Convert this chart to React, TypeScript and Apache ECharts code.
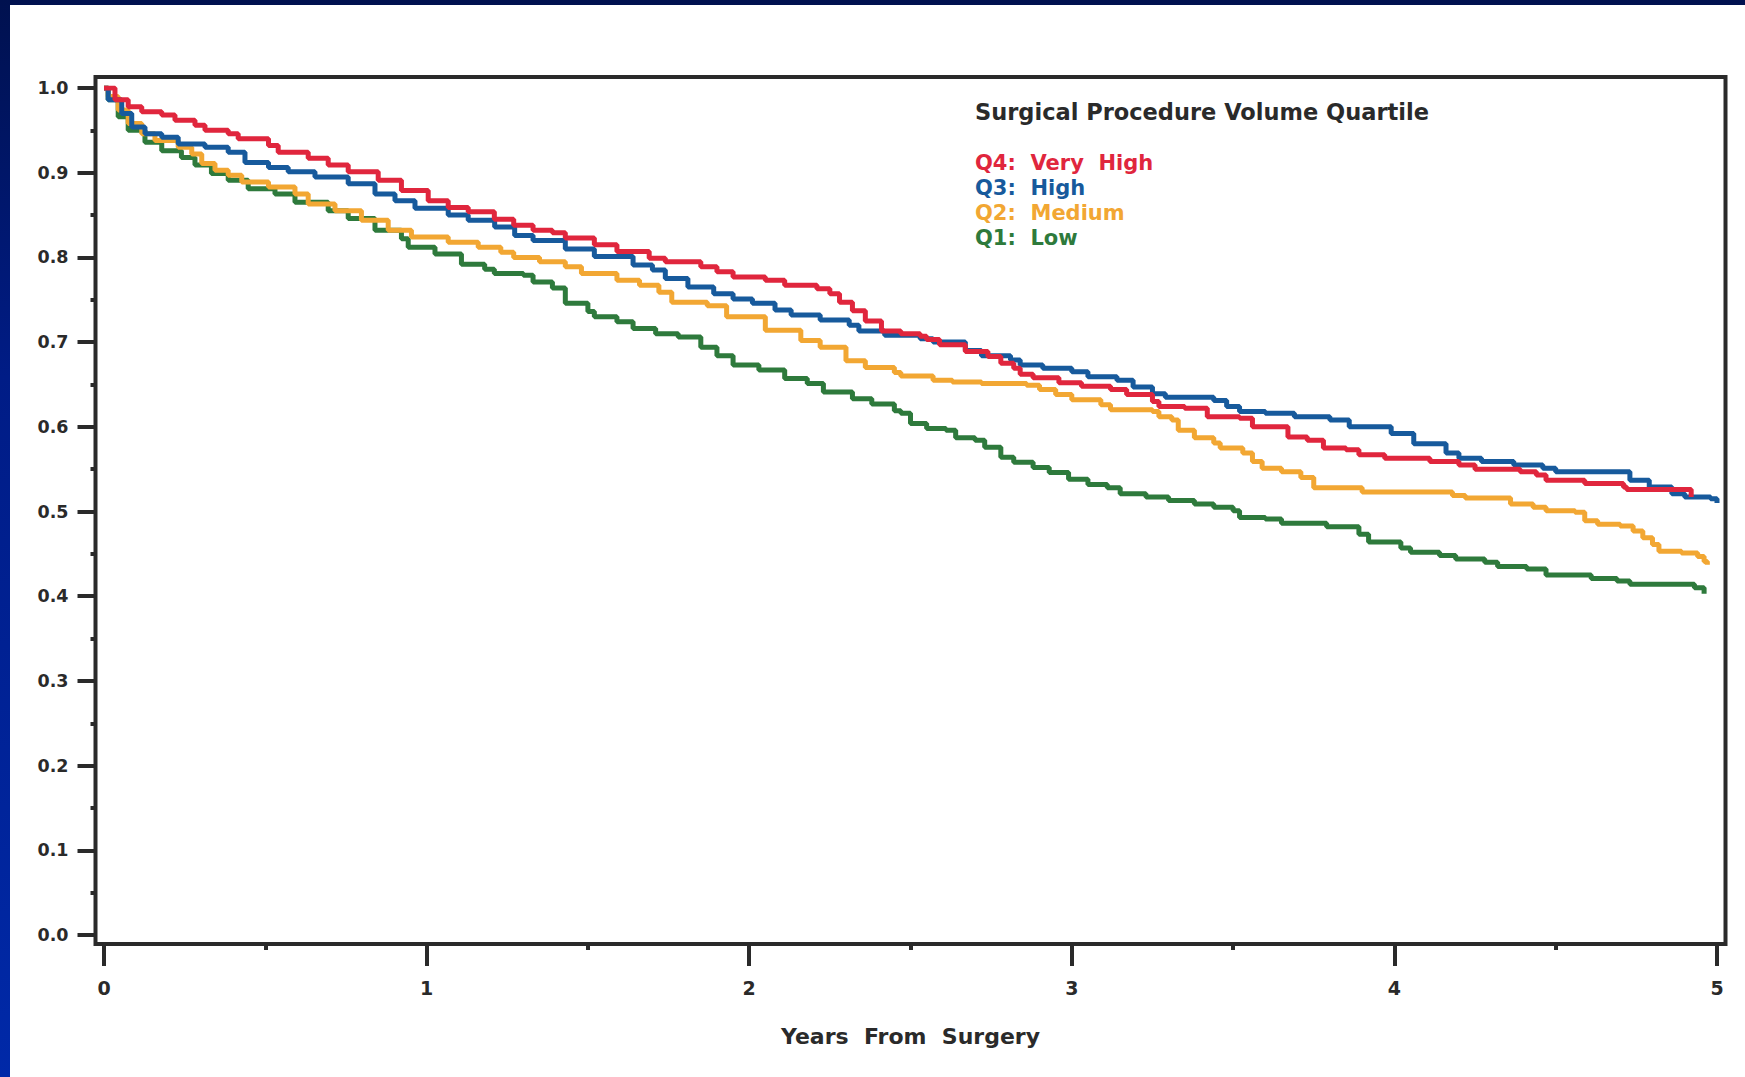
import React, { useEffect, useRef } from "react";
import * as echarts from "echarts";

// Kaplan–Meier survival by surgical procedure volume quartile: [years, survival]
const q4VeryHigh: [number, number][] = [
  [0, 1.0], [0.034, 0.986], [0.075, 0.978], [0.117, 0.972], [0.179, 0.968], [0.22, 0.962],
  [0.282, 0.956], [0.313, 0.95], [0.385, 0.946], [0.416, 0.94], [0.51, 0.932], [0.54, 0.924],
  [0.633, 0.917], [0.695, 0.909], [0.757, 0.901], [0.85, 0.891], [0.922, 0.879], [1.005, 0.867],
  [1.067, 0.859], [1.129, 0.854], [1.21, 0.845], [1.27, 0.838], [1.33, 0.832], [1.39, 0.829],
  [1.43, 0.823], [1.52, 0.815], [1.59, 0.807], [1.69, 0.799], [1.74, 0.795], [1.85, 0.789],
  [1.9, 0.783], [1.95, 0.777], [2.05, 0.773], [2.11, 0.767], [2.21, 0.763], [2.25, 0.757],
  [2.28, 0.747], [2.32, 0.737], [2.36, 0.725], [2.41, 0.713], [2.47, 0.71], [2.53, 0.707],
  [2.55, 0.703], [2.59, 0.697], [2.67, 0.689], [2.74, 0.683], [2.78, 0.675], [2.82, 0.669],
  [2.84, 0.662], [2.88, 0.658], [2.96, 0.652], [3.03, 0.648], [3.12, 0.644], [3.17, 0.638],
  [3.25, 0.63], [3.27, 0.624], [3.35, 0.622], [3.42, 0.612], [3.52, 0.61], [3.56, 0.6],
  [3.67, 0.588], [3.73, 0.584], [3.78, 0.575], [3.85, 0.573], [3.89, 0.567], [3.97, 0.563],
  [4.11, 0.559], [4.2, 0.555], [4.25, 0.55], [4.39, 0.547], [4.44, 0.543], [4.47, 0.537],
  [4.59, 0.533], [4.71, 0.529], [4.72, 0.526], [4.92, 0.517],
];

const q3High: [number, number][] = [
  [0, 1.0], [0.013, 0.986], [0.055, 0.97], [0.086, 0.954], [0.127, 0.946], [0.179, 0.942],
  [0.23, 0.934], [0.313, 0.93], [0.385, 0.924], [0.437, 0.912], [0.51, 0.906], [0.571, 0.901],
  [0.654, 0.895], [0.757, 0.887], [0.84, 0.875], [0.902, 0.867], [0.964, 0.858], [1.067, 0.85],
  [1.129, 0.844], [1.211, 0.836], [1.273, 0.826], [1.33, 0.82], [1.43, 0.81], [1.52, 0.801],
  [1.64, 0.791], [1.7, 0.785], [1.74, 0.775], [1.81, 0.765], [1.89, 0.757], [1.95, 0.751],
  [2.01, 0.746], [2.08, 0.738], [2.13, 0.732], [2.22, 0.726], [2.31, 0.72], [2.34, 0.713],
  [2.42, 0.708], [2.53, 0.704], [2.57, 0.7], [2.67, 0.69], [2.72, 0.684], [2.81, 0.679],
  [2.84, 0.673], [2.91, 0.669], [3.0, 0.665], [3.05, 0.659], [3.14, 0.655], [3.19, 0.647],
  [3.25, 0.639], [3.29, 0.635], [3.44, 0.631], [3.48, 0.624], [3.52, 0.618], [3.6, 0.616],
  [3.69, 0.612], [3.8, 0.608], [3.86, 0.6], [3.99, 0.592], [4.06, 0.58], [4.16, 0.569],
  [4.2, 0.563], [4.27, 0.559], [4.37, 0.555], [4.46, 0.551], [4.5, 0.547], [4.73, 0.537],
  [4.79, 0.529], [4.86, 0.521], [4.9, 0.517], [4.98, 0.515], [5.0, 0.51],
];

const q2Medium: [number, number][] = [
  [0, 1.0], [0.013, 0.99], [0.044, 0.974], [0.075, 0.958], [0.117, 0.946], [0.158, 0.938],
  [0.23, 0.93], [0.272, 0.922], [0.303, 0.911], [0.344, 0.903], [0.385, 0.897], [0.427, 0.889],
  [0.51, 0.883], [0.592, 0.875], [0.633, 0.863], [0.716, 0.855], [0.798, 0.844], [0.881, 0.832],
  [0.953, 0.824], [1.067, 0.818], [1.16, 0.812], [1.23, 0.806], [1.27, 0.8], [1.35, 0.795],
  [1.43, 0.789], [1.48, 0.781], [1.59, 0.773], [1.66, 0.767], [1.72, 0.759], [1.76, 0.747],
  [1.87, 0.743], [1.93, 0.73], [2.05, 0.714], [2.16, 0.702], [2.22, 0.694], [2.3, 0.678],
  [2.36, 0.67], [2.45, 0.664], [2.47, 0.66], [2.57, 0.655], [2.63, 0.653], [2.72, 0.651],
  [2.86, 0.649], [2.9, 0.644], [2.95, 0.638], [3.0, 0.632], [3.09, 0.626], [3.12, 0.62],
  [3.25, 0.618], [3.27, 0.612], [3.31, 0.608], [3.33, 0.596], [3.38, 0.587], [3.44, 0.581],
  [3.46, 0.575], [3.53, 0.569], [3.56, 0.559], [3.59, 0.551], [3.65, 0.547], [3.71, 0.54],
  [3.75, 0.528], [3.9, 0.523], [4.18, 0.519], [4.22, 0.516], [4.36, 0.509], [4.43, 0.505],
  [4.47, 0.501], [4.56, 0.499], [4.59, 0.489], [4.63, 0.485], [4.7, 0.483], [4.74, 0.477],
  [4.77, 0.469], [4.8, 0.461], [4.82, 0.453], [4.89, 0.451], [4.94, 0.447], [4.96, 0.441],
  [4.97, 0.437],
];

const q1Low: [number, number][] = [
  [0, 1.0], [0.013, 0.986], [0.044, 0.966], [0.075, 0.95], [0.127, 0.936], [0.179, 0.926],
  [0.24, 0.918], [0.282, 0.909], [0.333, 0.899], [0.385, 0.891], [0.447, 0.881], [0.53, 0.875],
  [0.592, 0.865], [0.695, 0.855], [0.757, 0.846], [0.84, 0.832], [0.922, 0.822], [0.943, 0.812],
  [1.026, 0.804], [1.108, 0.792], [1.18, 0.786], [1.21, 0.781], [1.3, 0.779], [1.33, 0.771],
  [1.39, 0.764], [1.43, 0.746], [1.5, 0.736], [1.52, 0.73], [1.59, 0.724], [1.64, 0.716],
  [1.71, 0.71], [1.78, 0.706], [1.85, 0.694], [1.9, 0.684], [1.95, 0.673], [2.03, 0.667],
  [2.11, 0.657], [2.18, 0.651], [2.23, 0.641], [2.32, 0.633], [2.38, 0.627], [2.45, 0.619],
  [2.47, 0.616], [2.5, 0.604], [2.55, 0.598], [2.61, 0.596], [2.64, 0.587], [2.7, 0.584],
  [2.73, 0.576], [2.78, 0.564], [2.82, 0.558], [2.88, 0.552], [2.93, 0.546], [2.99, 0.538],
  [3.05, 0.532], [3.11, 0.528], [3.15, 0.521], [3.23, 0.517], [3.3, 0.513], [3.38, 0.509],
  [3.44, 0.505], [3.5, 0.501], [3.52, 0.493], [3.6, 0.491], [3.65, 0.486], [3.79, 0.482],
  [3.89, 0.473], [3.92, 0.464], [4.02, 0.457], [4.05, 0.452], [4.14, 0.448], [4.19, 0.444],
  [4.28, 0.44], [4.32, 0.435], [4.41, 0.432], [4.47, 0.425], [4.61, 0.421], [4.69, 0.418],
  [4.73, 0.414], [4.93, 0.41], [4.96, 0.403],
];

const seriesNames = ["Q1:  Low", "Q2:  Medium", "Q3:  High", "Q4:  Very  High"];
const seriesColors = ["#2e7a3c", "#f2a733", "#175a9c", "#e0263d"];
const seriesData = [q1Low, q2Medium, q3High, q4VeryHigh];
const legendOrder = ["Q4:  Very  High", "Q3:  High", "Q2:  Medium", "Q1:  Low"];

const legendTitle = "Surgical Procedure Volume Quartile";
const xAxisTitle = "Years  From  Surgery";

const FONT = "'DejaVu Sans', 'Liberation Sans', Arial, sans-serif";
const INK = "#2a2a2a";

export default function App() {
  const ref = useRef<HTMLDivElement>(null);

  useEffect(() => {
    if (!ref.current) return;
    const chart = echarts.init(ref.current, null, { renderer: "svg" });

    const colorOf = (name: string) => seriesColors[seriesNames.indexOf(name)];
    const tickStyle = { color: INK, width: 4 };
    const hiddenLine = { show: false, onZero: false };

    chart.setOption({
      animation: false,
      backgroundColor: "#ffffff",
      title: {
        text: legendTitle,
        left: 975,
        top: 100,
        padding: 0,
        textStyle: { fontFamily: FONT, fontSize: 22.5, fontWeight: "bold", color: INK, lineHeight: 24 },
      },
      legend: {
        orient: "vertical",
        left: 970,
        top: 150,
        padding: 0,
        itemGap: 0,
        itemWidth: 0,
        itemHeight: 0,
        icon: "none",
        selectedMode: false,
        data: legendOrder.map((name) => ({
          name,
          textStyle: { color: colorOf(name) },
        })),
        textStyle: { fontFamily: FONT, fontSize: 21, fontWeight: "bold", lineHeight: 25 },
      },
      graphic: [
        {
          type: "rect",
          z: -100,
          silent: true,
          shape: { x: 0, y: 0, width: 1745, height: 1077 },
          style: {
            fill: new echarts.graphic.LinearGradient(0, 0, 0, 1, [
              { offset: 0, color: "#00114f" },
              { offset: 0.35, color: "#001c86" },
              { offset: 1, color: "#0029a8" },
            ]),
          },
        },
        {
          type: "rect",
          z: -99,
          silent: true,
          shape: { x: 10, y: 5, width: 1735, height: 1072 },
          style: { fill: "#ffffff" },
        },
        {
          type: "rect",
          z: 50,
          silent: true,
          shape: { x: 95.5, y: 77, width: 1630, height: 867 },
          style: { fill: "none", stroke: INK, lineWidth: 4 },
        },
      ],
      grid: { left: 104, right: 28, top: 88, bottom: 142, containLabel: false },
      xAxis: [
        {
          type: "value",
          position: "bottom",
          min: 0,
          max: 5,
          interval: 1,
          offset: 9,
          name: xAxisTitle,
          nameLocation: "middle",
          nameGap: 81,
          nameTextStyle: { fontFamily: FONT, fontSize: 22, fontWeight: "bold", color: INK },
          axisLine: hiddenLine,
          axisTick: { show: true, length: 22, lineStyle: tickStyle },
          axisLabel: { margin: 34, fontFamily: FONT, fontSize: 19, fontWeight: "bold", color: INK },
          splitLine: { show: false },
        },
        {
          // half-year minor ticks
          type: "value",
          position: "bottom",
          min: 0,
          max: 5,
          interval: 0.5,
          offset: 9,
          axisLine: hiddenLine,
          axisTick: { show: true, length: 6, lineStyle: tickStyle },
          axisLabel: { show: false },
          splitLine: { show: false },
        },
      ],
      yAxis: [
        {
          type: "value",
          position: "left",
          min: 0,
          max: 1,
          interval: 0.1,
          offset: 8.5,
          axisLine: hiddenLine,
          axisTick: { show: true, length: 18, lineStyle: tickStyle },
          axisLabel: {
            margin: 27,
            fontFamily: FONT,
            fontSize: 17.5,
            fontWeight: "bold",
            color: INK,
            formatter: (v: number) => v.toFixed(1),
          },
          splitLine: { show: false },
        },
        {
          // 0.05 minor ticks
          type: "value",
          position: "left",
          min: 0,
          max: 1,
          interval: 0.05,
          offset: 8.5,
          axisLine: hiddenLine,
          axisTick: { show: true, length: 5, lineStyle: tickStyle },
          axisLabel: { show: false },
          splitLine: { show: false },
        },
      ],
      series: seriesNames.map((name, i) => ({
        name,
        type: "line",
        step: "end",
        showSymbol: false,
        symbol: "none",
        xAxisIndex: 0,
        yAxisIndex: 0,
        color: seriesColors[i],
        lineStyle: { color: seriesColors[i], width: 5 },
        data: seriesData[i],
        z: 2 + i,
      })),
    });

    return () => chart.dispose();
  }, []);

  return (
    <div
      ref={ref}
      style={{ position: "fixed", left: 0, top: 0, width: 1745, height: 1077 }}
    />
  );
}
